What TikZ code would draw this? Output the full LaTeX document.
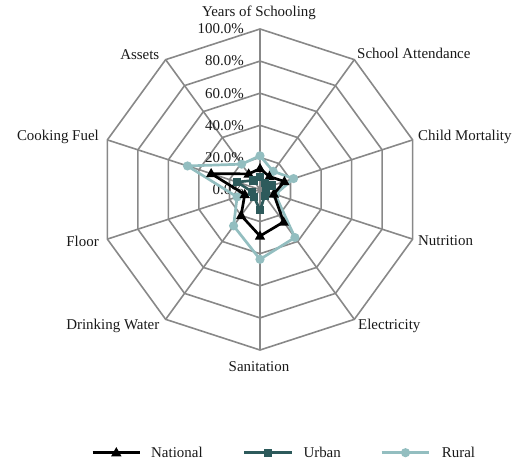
\documentclass[tikz,border=0pt]{standalone}
\usepackage{fontspec}
\setmainfont{Liberation Serif}
\definecolor{gridgray}{HTML}{888888}
\definecolor{urbcol}{HTML}{2D5A5B}
\definecolor{rurcol}{HTML}{93BEC0}
\begin{document}
\begin{tikzpicture}[x=1bp,y=1bp,
  grid/.style={draw=gridgray,line width=1.6bp},
  lbl/.style={font=\fontsize{15}{18}\selectfont, inner sep=0pt, text=black!90},
  natline/.style={draw=black,line width=2.7bp,line join=round},
  urbline/.style={draw=urbcol,line width=2.7bp,line join=round},
  rurline/.style={draw=rurcol,line width=2.7bp,line join=round}]
\useasboundingbox (0,0) rectangle (521,-463);
\begin{scope}[shift={(260,-189.5)}]
  \coordinate (O) at (0,0);
  % rings
  \foreach \k in {1,...,5}
    \draw[grid] (90:{\k*32.1}) \foreach \i in {1,...,9}{ -- ({90-36*\i}:{\k*32.1}) } -- cycle;
  % spokes
  \foreach \i in {1,...,9}
    \draw[grid] (O) -- ({90-36*\i}:160.5);
  \draw[grid,line width=2.2bp] (O) -- (90:160.5);
  % value labels
  \foreach \k/\t in {0/0.0,1/20.0,2/40.0,3/60.0,4/80.0,5/100.0}
    \node[lbl,anchor=east] (v\k) at (-16,{\k*32.1}) {\t\%};
  % data coordinates
  \foreach \v [count=\i from 0] in {21,14,22,10,37,43.5,28,15,47.5,19.5}
    \coordinate (r\i) at ({90-36*\i}:{\v*1.605});
  \foreach \v [count=\i from 0] in {13,10,16,9,25,29,20,10,32,12}
    \coordinate (n\i) at ({90-36*\i}:{\v*1.605});
  \foreach \v [count=\i from 0] in {8,5,8,4,5,13,6,5,15,7}
    \coordinate (u\i) at ({90-36*\i}:{\v*1.605});
  % rural
  \draw[rurline] (r0) \foreach \i in {1,...,9}{ -- (r\i) } -- cycle;
  \foreach \i in {0,...,9} \fill[rurcol] (r\i) circle (4.6);
  % national
  \draw[natline] (n0) \foreach \i in {1,...,9}{ -- (n\i) } -- cycle;
  \foreach \i in {0,...,9} \fill[black] (n\i) +(0,5.6) -- +(-5.2,-3.6) -- +(5.2,-3.6) -- cycle;
  % urban
  \draw[urbline] (u0) \foreach \i in {1,...,9}{ -- (u\i) } -- cycle;
  \foreach \i in {0,...,9} \fill[urbcol] (u\i) +(-4.1,-4.1) rectangle +(4.1,4.1);
\end{scope}
% axis labels
\node[lbl] (a0) at (259,-12.5) {Years of Schooling};
\node[lbl,anchor=west] (a1) at (357,-53.5) {School Attendance};
\node[lbl,anchor=west] (a2) at (418,-137.3) {Child Mortality};
\node[lbl,anchor=west] (a3) at (418,-240.7) {Nutrition};
\node[lbl,anchor=west] (a4) at (358,-325.7) {Electricity};
\node[lbl] (a5) at (259,-366.7) {Sanitation};
\node[lbl,anchor=east] (a6) at (159.5,-325.7) {Drinking Water};
\node[lbl,anchor=east] (a7) at (99,-241.7) {Floor};
\node[lbl,anchor=east] (a8) at (99,-137.3) {Cooking Fuel};
\node[lbl,anchor=east] (a9) at (159.5,-54.3) {Assets};
% legend
\coordinate (l1a) at (92.7,-452.7); \coordinate (l1b) at (140,-452.7); \coordinate (l1m) at (116.3,-452.7);
\draw[natline] (l1a) -- (l1b);
\fill[black] (l1m) +(0,5.6) -- +(-5.2,-3.6) -- +(5.2,-3.6) -- cycle;
\node[lbl,anchor=west] (t1) at (151,-452.7) {National};
\coordinate (l2a) at (244.3,-452.7); \coordinate (l2b) at (291.7,-452.7); \coordinate (l2m) at (268,-452.7);
\draw[urbline] (l2a) -- (l2b);
\fill[urbcol] (l2m) +(-4.1,-4.1) rectangle +(4.1,4.1);
\node[lbl,anchor=west] (t2) at (303.3,-452.7) {Urban};
\coordinate (l3a) at (381.7,-452.7); \coordinate (l3b) at (429.3,-452.7); \coordinate (l3m) at (405.5,-452.7);
\draw[rurline] (l3a) -- (l3b);
\fill[rurcol] (l3m) circle (4.6);
\node[lbl,anchor=west] (t3) at (441.7,-452.7) {Rural};
\end{tikzpicture}
\end{document}
